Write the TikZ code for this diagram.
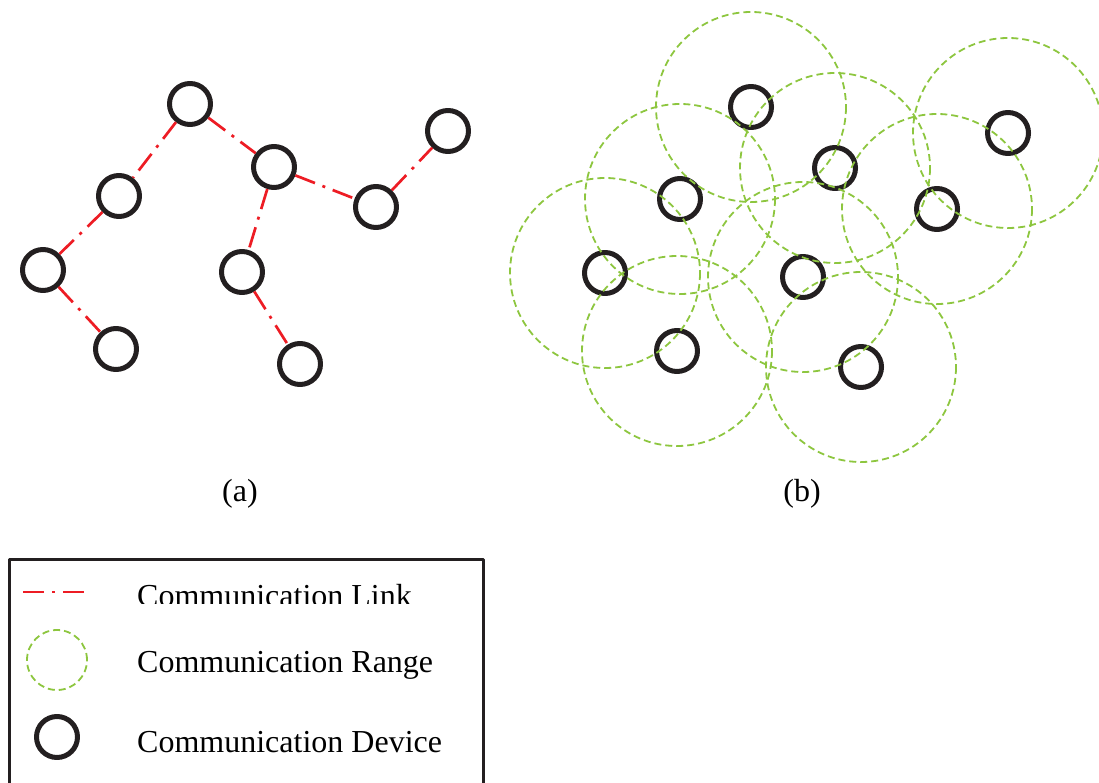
\documentclass[tikz,border=0pt]{standalone}
\usepackage{fontspec}
\setmainfont{Liberation Serif}
\definecolor{linkred}{RGB}{237,28,36}
\definecolor{rangegreen}{RGB}{141,198,63}
\definecolor{devblack}{RGB}{35,31,32}
\begin{document}
\begin{tikzpicture}[x=1pt, y=-1pt, font=\fontsize{32}{38}\selectfont, line join=round,
		device/.style={circle, draw=devblack, line width=5pt, minimum size=41pt, inner sep=0pt},
		commlink/.style={linkred, line width=2.7pt, dash pattern=on 21pt off 8pt on 3pt off 8pt},
		rangecircle/.style={rangegreen, line width=1.8pt, dash pattern=on 7pt off 4pt},
		legendtext/.style={anchor=base west, inner sep=0pt}]
		\useasboundingbox (0,0) rectangle (1099,783);
		% (a) devices and links
		\foreach \n/\x/\y in {1/190/104, 2/274/167, 3/119/196, 4/43/270, 5/116/349, 6/242/272, 7/300/364, 8/376/207, 9/448/131}
			\node[device] (a\n) at (\x,\y) {};
		\foreach \i/\j in {1/3, 1/2, 3/4, 4/5, 2/6, 6/7, 2/8, 8/9}
			\draw[commlink] (a\i) -- (a\j);
		\node (lbla) at (240,494) {(a)};
		% (b) devices and ranges
		\foreach \n/\x/\y in {1/751/107, 2/835/168, 3/680/199, 4/605/273, 5/677/351, 6/803/277, 7/861/367, 8/937/209, 9/1008/133}
			\node[device] (b\n) at (\x,\y) {};
		\foreach \n in {1,...,9}
			\draw[rangecircle] (b\n) circle[radius=95];
		\node (lblb) at (802,494) {(b)};
		% legend
		\draw[devblack, line width=3pt] (9.5,800) |- (483,559.5) -- (483,800);
		\coordinate (linkstart) at (23,592);
		\coordinate (linkend) at (85,592);
		\draw[commlink] (linkstart) -- (linkend);
		\begin{scope}
			\clip (100,570) rectangle (480,603);
			\node[legendtext] (txtlink) at (137,606) {Communication Link};
		\end{scope}
		\node[draw=rangegreen, line width=1.8pt, dash pattern=on 7pt off 4pt, circle, minimum size=60pt, inner sep=0pt] (legrange) at (57,660) {};
		\node[legendtext] (txtrange) at (137,672) {Communication Range};
		\node[device] (legdev) at (57,737) {};
		\node[legendtext] (txtdev) at (137,752) {Communication Device};
\end{tikzpicture}
\end{document}
